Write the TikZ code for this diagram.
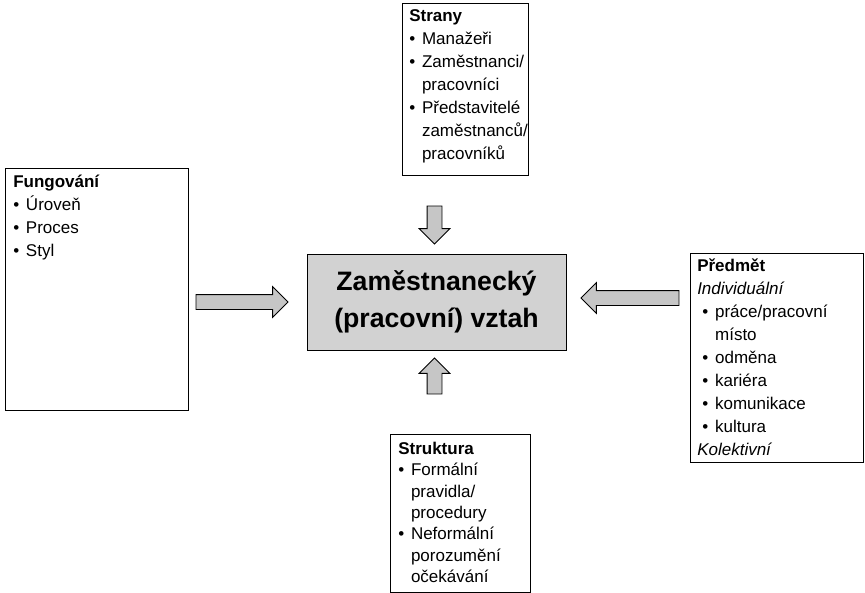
\documentclass[tikz,border=0pt]{standalone}
\usepackage{fontspec}
\setmainfont{Liberation Sans}
\usetikzlibrary{positioning,calc,shapes.arrows}
\newcommand{\bul}{\makebox[.75em][l]{\textbullet}}
\newcommand{\ind}{\hspace*{.75em}}
\newcommand{\sub}{\hspace*{.3em}}
\tikzset{
  frame/.style={draw=black,line width=1.1pt,fill=white,anchor=north west,inner sep=0pt},
  inbox/.style={anchor=north west,align=left,inner sep=0pt,font=\fontsize{12.75}{17.25}\selectfont},
  core/.style={draw=black,line width=.6pt,fill=gray!35,align=center,inner sep=0pt,font=\fontsize{20}{27.75}\selectfont\bfseries},
  fat/.style={single arrow,draw=black,line width=.6pt,fill=gray!45,inner sep=5.25pt,single arrow head extend=6pt},
}
\begin{document}
\begin{tikzpicture}[x=0.75pt,y=-0.75pt]
\useasboundingbox (0,0) rectangle (865,593);
% the relationship in the middle
\node[core,minimum width=194.25pt,minimum height=72pt] (rel) at (436.5,302) {Zaměstnanecký\\(pracovní) vztah};
% four frames round it
\node[frame,minimum width=94.5pt,minimum height=129pt] (strany) at (402,3) {};
\node[inbox] (strany-t) at ($(strany.north west)+(7,6)$) {\textbf{Strany}\\ \bul Manažeři\\ \bul Zaměstnanci/\\ \ind pracovníci\\ \bul Představitelé\\ \ind zaměstnanců/\\ \ind pracovníků};
\node[frame,minimum width=137.25pt,minimum height=181.5pt] (fung) at (5,168) {};
\node[inbox] (fung-t) at ($(fung.north west)+(8,7)$) {\textbf{Fungování}\\ \bul Úroveň\\ \bul Proces\\ \bul Styl};
\node[frame,minimum width=129.75pt,minimum height=156.75pt] (predmet) at (690,253) {};
\node[inbox] (predmet-t) at ($(predmet.north west)+(7,6)$) {\textbf{Předmět}\\ \textit{Individuální}\\ \sub\bul práce/pracovní\\ \sub\ind místo\\ \sub\bul odměna\\ \sub\bul kariéra\\ \sub\bul komunikace\\ \sub\bul kultura\\ \textit{Kolektivní}};
\node[frame,minimum width=105pt,minimum height=118.5pt] (strukt) at (390,434) {};
\node[inbox,font=\fontsize{12.75}{16}\selectfont] (strukt-t) at ($(strukt.north west)+(8,8)$) {\textbf{Struktura}\\ \bul Formální\\ \ind pravidla/\\ \ind procedury\\ \bul Neformální\\ \ind porozumění\\ \ind očekávání};
% fat arrows pointing at the middle
\node[fat,minimum height=69pt,anchor=tip] (a-fung) at ($(rel.west)+(-18,0)$) {};
\node[fat,minimum height=73.5pt,anchor=tip,shape border rotate=180] (a-pred) at ($(rel.east)+(14,-4)$) {};
\node[fat,minimum height=28.5pt,anchor=tip,shape border rotate=270] (a-str) at ($(rel.north)+(-2,-9)$) {};
\node[fat,minimum height=27pt,anchor=tip,shape border rotate=90] (a-struk) at ($(rel.south)+(-2,7)$) {};
\end{tikzpicture}
\end{document}
